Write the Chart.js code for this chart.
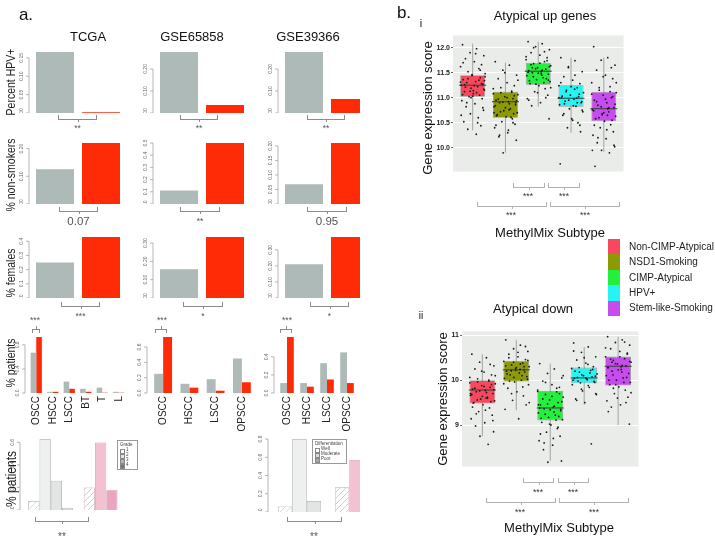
<!DOCTYPE html>
<html><head><meta charset="utf-8">
<script src="https://cdn.jsdelivr.net/npm/chart.js@4.4.0/dist/chart.umd.min.js"></script>
<style>
body{margin:0;background:#fff;font-family:"Liberation Sans",Arial,Helvetica,sans-serif;}
#stage{position:relative;width:715px;height:548px;overflow:hidden;background:#fff;}
#pa{position:absolute;left:0;top:0;width:360px;height:548px;overflow:hidden;}
.t{position:absolute;white-space:nowrap;line-height:1;filter:grayscale(100%);}
.ln{position:absolute;}
canvas{position:absolute;}
.lg{position:absolute;border:0.5px solid #999;background:#fff;font-size:4.5px;color:#444;line-height:1;filter:grayscale(100%);}
.lg div{position:relative;height:5px;padding-left:6px;margin-left:2px;}
.lg span{position:absolute;left:0;top:0.5px;width:3px;height:3px;border:0.5px solid #888;}
</style></head><body><div id="stage"><div id="pa"></div></div>
<script>
// ---------- panel a: clinical comparisons (grey = other subtypes, red = atypical)
const COHORTS = ['TCGA', 'GSE65858', 'GSE39366'];
const GROUPS = ['Other', 'Atypical'];
const HPV_OTHER = [0.166, 0.277, 0.277];
const HPV_ATYP = [0.002, 0.036, 0.064];
const HPV_TICKS = [['0.00', '0.05', '0.10', '0.15'], ['0.00', '0.10', '0.20'], ['0.00', '0.10', '0.20']];
const SMK_OTHER = [0.125, 0.11, 0.068];
const SMK_ATYP = [0.22, 0.5, 0.21];
const SMK_TICKS = [['0.00', '0.10', '0.20'], ['0.0', '0.1', '0.2', '0.3', '0.4', '0.5'], ['0.00', '0.05', '0.10', '0.15', '0.20']];
const FEM_OTHER = [0.25, 0.157, 0.21];
const FEM_ATYP = [0.43, 0.333, 0.38];
const FEM_TICKS = [['0.0', '0.1', '0.2', '0.3', '0.4'], ['0.00', '0.10', '0.20', '0.30'], ['0.00', '0.10', '0.20', '0.30']];
const SIG_HPV = ['**', '**', '**'];
const SIG_SMK = ['0.07', '**', '0.95'];
const SIG_FEM = ['***', '*', '*'];

const HIST_CATS = [['OSCC', 'HSCC', 'LSCC', 'BT', 'T', 'L'], ['OSCC', 'HSCC', 'LSCC', 'OPSCC'], ['OSCC', 'HSCC', 'LSCC', 'OPSCC', 'Other']];
const HIST_OTHER = [[0.67, 0.02, 0.19, 0.07, 0.09, 0.02], [0.25, 0.12, 0.18, 0.45], [0.11, 0.11, 0.33, 0.45, 0]];
const HIST_ATYP = [[0.93, 0.02, 0.07, 0.02, 0.005, 0.005], [0.73, 0.07, 0.03, 0.14], [0.62, 0.07, 0.15, 0.11, 0.07]];
const HIST_TICKS = [['0.0', '0.4', '0.8'], ['0.0', '0.2', '0.4', '0.6'], ['0.0', '0.2', '0.4']];

const GRADE_LEVELS = ['1', '2', '3', '4'];
const GRADE_OTHER = [0.08, 0.63, 0.26, 0.02];
const GRADE_ATYP = [0.20, 0.60, 0.18, 0];
const GRADE_TICKS = ['0.0', '0.2', '0.4', '0.6'];
const DIFF_LEVELS = ['Well', 'Moderate', 'Poor'];
const DIFF_OTHER = [0.06, 0.80, 0.12];
const DIFF_ATYP = [0.27, 0.57, 0.14];
const DIFF_TICKS = ['0.0', '0.2', '0.4', '0.6', '0.8'];

// ---------- panel b: gene expression scores by MethylMix subtype
const SUBTYPES = ['Non-CIMP-Atypical', 'NSD1-Smoking', 'CIMP-Atypical', 'HPV+', 'Stem-like-Smoking'];
const UP_Q1 = [11.02, 10.6, 11.26, 10.82, 10.53];
const UP_MED = [11.25, 10.92, 11.53, 10.99, 10.78];
const UP_Q3 = [11.45, 11.12, 11.7, 11.25, 11.12];
const UP_LO = [10.35, 9.9, 10.82, 10.3, 9.92];
const UP_HI = [12.08, 11.7, 12.12, 11.8, 11.8];
const UP_TICKS = ['10.0', '10.5', '11.0', '11.5', '12.0'];
const DN_Q1 = [9.48, 9.97, 9.1, 9.93, 9.88];
const DN_MED = [9.78, 10.23, 9.38, 10.05, 10.31];
const DN_Q3 = [10.0, 10.43, 9.76, 10.28, 10.53];
const DN_LO = [8.75, 9.33, 8.2, 9.45, 9.0];
const DN_HI = [10.58, 10.9, 10.37, 10.74, 10.97];
const DN_TICKS = ['9', '10', '11'];

const UP_PTS = [
  [12.06, 11.98, 11.9, 11.84, 11.78, 11.72, 11.66, 11.62, 11.58, 11.52, 11.48, 11.44, 11.4, 11.36, 11.32, 11.3, 11.27, 11.25, 11.22, 11.19, 11.15, 11.12, 11.08, 11.05, 11.02, 10.98, 10.94, 10.88, 10.82, 10.75, 10.68, 10.6, 10.52, 10.44, 10.37, 10.27,
   11.03, 11.06, 11.1, 11.13, 11.17, 11.21, 11.24, 11.28, 11.31, 11.35, 11.38, 11.42, 11.46, 11.55, 11.7, 11.88, 10.9, 10.8, 10.65, 10.5, 11.0, 11.34, 11.26, 11.14],
  [11.72, 11.65, 11.55, 11.45, 11.38, 11.3, 11.24, 11.18, 11.13, 11.1, 11.06, 11.02, 10.98, 10.95, 10.92, 10.9, 10.86, 10.82, 10.78, 10.74, 10.7, 10.66, 10.62, 10.58, 10.52, 10.47, 10.4, 10.3, 10.22, 10.15, 9.9,
   10.61, 10.64, 10.68, 10.72, 10.76, 10.8, 10.84, 10.88, 10.91, 10.94, 10.97, 11.0, 11.04, 11.08, 11.11, 11.2, 11.35, 11.5, 10.5, 10.45, 10.35, 10.25, 10.9, 10.7],
  [12.12, 12.08, 12.02, 11.96, 11.9, 11.85, 11.8, 11.76, 11.72, 11.68, 11.64, 11.6, 11.57, 11.54, 11.52, 11.5, 11.47, 11.44, 11.4, 11.36, 11.32, 11.28, 11.24, 11.18, 11.12, 11.05, 10.98, 10.9, 10.84, 10.58,
   11.27, 11.3, 11.34, 11.38, 11.42, 11.45, 11.49, 11.51, 11.55, 11.58, 11.62, 11.66, 11.69, 11.74, 11.82, 11.92, 12.0, 11.2, 11.1, 11.0, 10.95, 11.48, 11.6, 11.35],
  [11.8, 11.74, 11.62, 11.52, 11.42, 11.35, 11.28, 11.24, 11.2, 11.15, 11.1, 11.05, 11.02, 11.0, 10.97, 10.93, 10.9, 10.86, 10.83, 10.78, 10.72, 10.65, 10.58, 10.5, 10.4, 10.32, 9.68,
   10.84, 10.88, 10.92, 10.95, 10.99, 11.03, 11.07, 11.12, 11.17, 11.22, 11.3, 11.45, 11.6, 10.75, 10.68, 10.55, 10.45, 11.0, 10.9],
  [12.02, 11.8, 11.75, 11.65, 11.55, 11.45, 11.38, 11.3, 11.22, 11.15, 11.1, 11.05, 11.0, 10.95, 10.9, 10.85, 10.8, 10.76, 10.72, 10.68, 10.63, 10.58, 10.53, 10.46, 10.4, 10.32, 10.25, 10.18, 10.1, 10.02, 9.95, 9.9, 9.63,
   10.55, 10.6, 10.65, 10.7, 10.74, 10.78, 10.82, 10.87, 10.92, 10.97, 11.02, 11.07, 11.12, 11.2, 11.3, 11.42, 11.6, 10.45, 10.36, 10.2, 10.05, 9.95, 10.8, 10.66]
];
const DN_PTS = [
  [10.58, 10.5, 10.4, 10.32, 10.25, 10.18, 10.12, 10.06, 10.0, 9.96, 9.92, 9.88, 9.84, 9.8, 9.77, 9.74, 9.7, 9.66, 9.62, 9.58, 9.54, 9.5, 9.45, 9.38, 9.3, 9.22, 9.14, 9.05, 8.98, 8.85, 8.75, 8.57,
   9.49, 9.52, 9.56, 9.6, 9.64, 9.68, 9.72, 9.76, 9.79, 9.82, 9.86, 9.9, 9.94, 9.98, 10.03, 10.1, 10.2, 10.35, 9.4, 9.33, 9.25, 9.1, 9.7, 9.6],
  [10.9, 10.78, 10.7, 10.64, 10.58, 10.52, 10.46, 10.42, 10.38, 10.34, 10.3, 10.26, 10.23, 10.2, 10.16, 10.12, 10.08, 10.04, 10.0, 9.96, 9.9, 9.82, 9.74, 9.65, 9.55, 9.45, 9.35, 9.14,
   9.98, 10.02, 10.06, 10.1, 10.14, 10.18, 10.21, 10.24, 10.28, 10.32, 10.36, 10.4, 10.44, 10.5, 10.62, 10.75, 9.92, 9.85, 9.7, 9.5, 10.22, 10.3],
  [10.37, 10.25, 10.15, 10.05, 9.98, 9.9, 9.84, 9.78, 9.74, 9.68, 9.62, 9.56, 9.5, 9.45, 9.4, 9.36, 9.32, 9.27, 9.22, 9.17, 9.12, 9.06, 9.0, 8.92, 8.84, 8.75, 8.65, 8.55, 8.45, 8.2, 8.17,
   9.11, 9.15, 9.19, 9.24, 9.29, 9.34, 9.38, 9.42, 9.47, 9.52, 9.58, 9.64, 9.7, 9.75, 9.82, 9.95, 10.1, 9.02, 8.95, 8.8, 8.7, 8.6, 9.35, 9.45],
  [10.83, 10.74, 10.62, 10.52, 10.45, 10.38, 10.3, 10.26, 10.22, 10.18, 10.14, 10.1, 10.07, 10.04, 10.01, 9.98, 9.95, 9.9, 9.84, 9.76, 9.68, 9.58, 9.5, 8.58,
   9.94, 9.97, 10.0, 10.03, 10.06, 10.09, 10.12, 10.16, 10.2, 10.24, 10.28, 10.35, 10.5, 10.65, 9.88, 9.8, 9.7, 9.55, 10.05],
  [10.97, 10.9, 10.84, 10.78, 10.7, 10.64, 10.58, 10.52, 10.48, 10.44, 10.4, 10.36, 10.32, 10.28, 10.24, 10.2, 10.15, 10.1, 10.05, 10.0, 9.95, 9.9, 9.85, 9.78, 9.7, 9.62, 9.54, 9.45, 9.4, 9.02,
   9.9, 9.95, 10.0, 10.06, 10.12, 10.18, 10.23, 10.28, 10.33, 10.37, 10.42, 10.47, 10.52, 10.6, 10.72, 10.85, 9.82, 9.72, 9.6, 9.5, 9.3, 10.3, 10.4]
];
// horizontal jitter offsets (in category units), reused cyclically
const JITTER = [-0.31, 0.12, -0.08, 0.34, -0.22, 0.05, 0.27, -0.37, 0.19, -0.14, 0.38, -0.02, 0.23, -0.29, 0.09, -0.18, 0.31, -0.35, 0.15, -0.05, 0.36, -0.25, 0.02, 0.21, -0.11, 0.29, -0.33, 0.07, -0.2, 0.33, -0.07, 0.17, -0.27, 0.25, -0.15, 0.11, 0.0];

// ---------- styling
const FONT = '"Liberation Sans", Arial, Helvetica, sans-serif';
const GREY = '#aebab7';
const RED = '#ff2b06';
const SUB_COLORS = ['#f8485e', '#8c9a08', '#22f03c', '#26f4f2', '#c84bef'];
Chart.defaults.font.family = FONT;

const stage = document.getElementById('stage');
const pa = document.getElementById('pa');

function hatch(color) {
  const c = document.createElement('canvas');
  c.width = 6; c.height = 6;
  const g = c.getContext('2d');
  g.fillStyle = '#fff'; g.fillRect(0, 0, 6, 6);
  g.strokeStyle = color; g.lineWidth = 0.8;
  g.beginPath(); g.moveTo(-1, 7); g.lineTo(7, -1); g.stroke();
  return g.createPattern(c, 'repeat');
}
const GREY_SHADES = [hatch('#d0d0d0'), '#eef0ef', '#e2e5e4', '#d3d7d6'];
const PINK_SHADES = [hatch('#f0a9be'), '#f2c1d2', '#eba5c1', '#e390b2'];

function canvasAt(parent, left, top, w, h) {
  const c = document.createElement('canvas');
  c.width = Math.round(w); c.height = Math.round(h);
  c.style.left = left + 'px'; c.style.top = top + 'px';
  parent.appendChild(c);
  return c;
}

function txt(parent, x, y, s, size, color, opts = {}) {
  const d = document.createElement('div');
  d.className = 't';
  d.textContent = s;
  const tx = opts.align === 'left' ? '0' : '-50%';
  Object.assign(d.style, {
    left: x + 'px', top: y + 'px', fontSize: size + 'px', color: color || '#222',
    transform: `translate(${tx},-50%)` + (opts.rot ? ' rotate(-90deg)' : '') + (opts.sy ? ` scaleY(${opts.sy})` : '')
  });
  parent.appendChild(d);
  return d;
}

function bracket(parent, x1, x2, y, dir, color) {
  const add = (l, t, w, h) => {
    const d = document.createElement('div');
    d.className = 'ln';
    Object.assign(d.style, { left: l + 'px', top: t + 'px', width: w + 'px', height: h + 'px', background: color });
    parent.appendChild(d);
  };
  const mid = Math.round((x1 + x2) / 2);
  add(x1, y, x2 - x1, 1);
  if (dir < 0) { add(x1, y - 4, 1, 4); add(x2 - 1, y - 4, 1, 4); add(mid, y, 1, 3); }
  else { add(x1, y, 1, 4); add(x2 - 1, y, 1, 4); add(mid, y - 3, 1, 3); }
}

// R-style y axis: line between first and last tick, small ticks, rotated labels
const rAxis = {
  id: 'rAxis',
  afterDraw(chart, args, o) {
    if (!o.labels) return;
    const s = chart.scales.y, ctx = chart.ctx, x0 = chart.chartArea.left - 3;
    const px = o.labels.map(l => s.getPixelForValue(parseFloat(l)));
    ctx.save();
    ctx.strokeStyle = '#9a9a9a'; ctx.lineWidth = 0.7;
    ctx.beginPath();
    ctx.moveTo(x0, px[0]); ctx.lineTo(x0, px[px.length - 1]);
    px.forEach(p => { ctx.moveTo(x0, p); ctx.lineTo(x0 - 3, p); });
    ctx.stroke();
    ctx.fillStyle = '#666'; ctx.font = '5px ' + FONT;
    ctx.textAlign = 'center'; ctx.textBaseline = 'middle';
    o.labels.forEach((l, i) => {
      ctx.save(); ctx.translate(x0 - 7, px[i]); ctx.rotate(-Math.PI / 2); ctx.fillText(l, 0, 0); ctx.restore();
    });
    ctx.restore();
  }
};

const PAD_L = 16, PAD_T = 4;
function pctChart(parent, box, labels, datasets, ticks, opts) {
  const xH = opts.xLabels ? 42 : 0;
  const padR = opts.xLabels ? 8 : 0;
  const c = canvasAt(parent, box[0] - PAD_L, box[1] - PAD_T, box[2] - box[0] + PAD_L + padR, box[3] - box[1] + PAD_T + xH);
  const top = opts.max || Math.max(...datasets.flatMap(d => d.data));
  return new Chart(c, {
    type: 'bar',
    data: { labels, datasets },
    plugins: [rAxis],
    options: {
      responsive: false, animation: false,
      layout: { padding: { left: PAD_L, top: PAD_T, right: padR, bottom: 0 } },
      plugins: { legend: { display: false }, tooltip: { enabled: false }, rAxis: { labels: ticks } },
      datasets: { bar: { categoryPercentage: opts.cat, barPercentage: opts.bar } },
      scales: {
        x: {
          display: !!(opts.xLabels || opts.base),
          grid: { display: false, drawTicks: false },
          border: { display: !!opts.base, color: '#b8b8b8', width: 0.8 },
          ticks: { display: !!opts.xLabels, minRotation: 90, maxRotation: 90, autoSkip: false, padding: 3, color: '#222', font: { size: 10 } },
          afterFit: s => { s.height = xH; }
        },
        y: {
          min: 0, max: top,
          ticks: { display: false }, grid: { display: false }, border: { display: false },
          afterFit: s => { s.width = 0; }
        }
      }
    }
  });
}

// ----- panel a, rows 1-3
const COL_L = [32, 156, 281];
const ROWS = [[52, 113], [143, 204], [237, 298]];
const SIMPLE = [[HPV_OTHER, HPV_ATYP, HPV_TICKS], [SMK_OTHER, SMK_ATYP, SMK_TICKS], [FEM_OTHER, FEM_ATYP, FEM_TICKS]];
SIMPLE.forEach(([oth, aty, tk], r) => {
  COHORTS.forEach((_, c) => {
    pctChart(pa, [COL_L[c], ROWS[r][0], COL_L[c] + 92, ROWS[r][1]], GROUPS,
      [{ data: [oth[c], aty[c]], backgroundColor: [GREY, RED], borderWidth: 0 }], tk[c], { cat: 1, bar: 0.826 });
  });
});

// ----- panel a, row 4 histology
const HIST_BOX = [[28, 127], [150, 255], [277, 377]];
HIST_CATS.forEach((cats, c) => {
  pctChart(pa, [HIST_BOX[c][0], 337, HIST_BOX[c][1], 393], cats, [
    { data: HIST_OTHER[c], backgroundColor: GREY, borderWidth: 0 },
    { data: HIST_ATYP[c], backgroundColor: RED, borderWidth: 0 }
  ], HIST_TICKS[c], { cat: 0.68, bar: 1, xLabels: true });
});

// ----- panel a, row 5 grade / differentiation
function gradeChart(box, levels, oth, aty, ticks, cat) {
  const ds = levels.map((lv, i) => ({
    label: lv, data: [oth[i], aty[i]],
    backgroundColor: [GREY_SHADES[i], PINK_SHADES[i]],
    borderColor: ['#a5aaa9', '#d4a0b4'], borderWidth: 0.8
  }));
  pctChart(pa, box, GROUPS, ds, ticks, { cat, bar: 1, base: true, max: Math.max(...oth, ...aty) });
}
gradeChart([22.75, 439, 133.75, 510], GRADE_LEVELS, GRADE_OTHER, GRADE_ATYP, GRADE_TICKS, 0.81);
gradeChart([270.5, 439, 384.5, 512], DIFF_LEVELS, DIFF_OTHER, DIFF_ATYP, DIFF_TICKS, 0.76);

function legendBox(left, top, w, title, levels, swatch) {
  const d = document.createElement('div');
  d.className = 'lg';
  Object.assign(d.style, { left: left + 'px', top: top + 'px', width: w + 'px', paddingTop: '2px', paddingBottom: '1px' });
  const h = document.createElement('div');
  h.textContent = title; h.style.paddingLeft = '0px';
  d.appendChild(h);
  levels.forEach((lv, i) => {
    const r = document.createElement('div');
    const sq = document.createElement('span');
    sq.style.background = swatch[i];
    r.appendChild(sq);
    r.appendChild(document.createTextNode(lv));
    d.appendChild(r);
  });
  pa.appendChild(d);
}
legendBox(117, 440, 19, 'Grade', GRADE_LEVELS, ['#fff', '#e2e2e2', '#b5b5b5', '#777']);
legendBox(312, 439, 33, 'Differentiation', DIFF_LEVELS, ['#fff', '#d8d8d8', '#a6a6a6']);

// ----- panel a text
txt(pa, 26, 14, 'a.', 17, '#111');
txt(pa, 88, 36, 'TCGA', 13, '#111');
txt(pa, 192, 36, 'GSE65858', 13, '#111');
txt(pa, 308, 36, 'GSE39366', 13, '#111');
txt(pa, 10, 82, 'Percent HPV+', 10.5, '#222', { rot: true, sy: 1.2 });
txt(pa, 10, 175, '% non-smokers', 10.5, '#222', { rot: true, sy: 1.2 });
txt(pa, 10, 273, '% females', 10.5, '#222', { rot: true, sy: 1.2 });
txt(pa, 10, 363, '% patients', 10.5, '#222', { rot: true, sy: 1.2 });
txt(pa, 11, 479, '% patients', 12, '#222', { rot: true, sy: 1.2 });

const BR = '#8c8c8c';
const BR_X = [[[58, 97], [180, 218], [307, 345]], [[59, 98], [180, 220], [307, 347]], [[61, 100], [183, 223], [310, 349]]];
const BR_Y = [119, 211, 306];
const SIG_Y = [128, 221, 316];
[SIG_HPV, SIG_SMK, SIG_FEM].forEach((sig, r) => {
  sig.forEach((s, c) => {
    const [x1, x2] = BR_X[r][c];
    bracket(pa, x1, x2, BR_Y[r], -1, BR);
    const num = /\d/.test(s);
    txt(pa, (x1 + x2) / 2, SIG_Y[r] + (num ? 1 : 0), s, num ? 11.5 : 8.5, '#555');
  });
});
[[32, 40, 35], [155, 167, 162], [280, 292, 287]].forEach(([x1, x2, tx]) => {
  bracket(pa, x1, x2, 329, 1, BR);
  txt(pa, tx, 320, '***', 8.5, '#555');
});
bracket(pa, 35, 89, 521, -1, BR);
txt(pa, 62, 537, '**', 10, '#555');
bracket(pa, 287, 342, 521, -1, BR);
txt(pa, 314, 537, '**', 10, '#555');

// ----- panel b box plots
const panelBg = {
  id: 'panelBg',
  beforeDraw(chart) {
    const { left, top, width, height } = chart.chartArea;
    chart.ctx.save();
    chart.ctx.fillStyle = '#e9ece8';
    chart.ctx.fillRect(left, top, width, height);
    chart.ctx.restore();
  }
};

const YW = 22, BP = 6;
function boxChart(box, q1, med, q3, lo, hi, pts, yMin, yMax, ticks) {
  const c = canvasAt(stage, box[0] - YW, box[1] - BP, box[2] - box[0] + YW, box[3] - box[1] + 2 * BP);
  const datasets = SUBTYPES.map((s, i) => ({
    type: 'scatter', data: [{ x: i + 1, y: lo[i] }, { x: i + 1, y: hi[i] }],
    showLine: true, borderColor: '#a3a3a3', borderWidth: 1, pointRadius: 0, order: 3
  }));
  datasets.push({
    type: 'bar', data: q1.map((v, i) => ({ x: i + 1, y: [v, q3[i]] })),
    backgroundColor: SUB_COLORS, borderColor: 'rgba(70,70,70,0.5)', borderWidth: 0.8, borderSkipped: false,
    barPercentage: 0.76, categoryPercentage: 1, order: 2
  });
  datasets.push({
    type: 'scatter', data: med.map((v, i) => ({ x: i + 1, y: v })),
    pointStyle: 'line', pointRadius: 13.5, borderColor: '#3a3a3a', borderWidth: 1, order: 1
  });
  datasets.push({
    type: 'scatter',
    data: pts.flatMap((arr, g) => arr.map((v, k) => ({ x: g + 1 + JITTER[k % JITTER.length], y: v }))),
    pointRadius: 0.9, backgroundColor: '#1a1a1a', borderWidth: 0, order: 0
  });
  return new Chart(c, {
    type: 'bar',
    data: { datasets },
    plugins: [panelBg],
    options: {
      responsive: false, animation: false,
      layout: { padding: { left: 0, right: 0, top: BP, bottom: BP } },
      plugins: { legend: { display: false }, tooltip: { enabled: false } },
      scales: {
        x: { type: 'linear', min: 0.4, max: 5.6, offset: false, display: false },
        y: {
          min: yMin, max: yMax,
          afterBuildTicks: s => { s.ticks = ticks.map(t => ({ value: parseFloat(t) })); },
          ticks: { callback: (v, i) => ticks[i], color: '#222', padding: 1, font: { size: 7, weight: 'bold' } },
          grid: { color: '#ffffff', lineWidth: 1, tickLength: 2, tickColor: '#666' },
          border: { display: false },
          afterFit: s => { s.width = YW; }
        }
      }
    }
  });
}
boxChart([453, 27, 638, 180], UP_Q1, UP_MED, UP_Q3, UP_LO, UP_HI, UP_PTS, 9.526, 12.243, UP_TICKS);
boxChart([462, 323, 653, 475], DN_Q1, DN_MED, DN_Q3, DN_LO, DN_HI, DN_PTS, 8.075, 11.085, DN_TICKS);

// ----- panel b text, brackets, legend
txt(stage, 404, 12, 'b.', 17, '#111');
txt(stage, 421, 23, 'i', 11, '#111');
txt(stage, 421, 316, 'ii', 10, '#111');
txt(stage, 545, 15, 'Atypical up genes', 13, '#111');
txt(stage, 533, 308, 'Atypical down', 13, '#111');
txt(stage, 427, 108, 'Gene expression score', 13, '#111', { rot: true });
txt(stage, 442, 399, 'Gene expression score', 13, '#111', { rot: true });
txt(stage, 550, 232, 'MethylMix Subtype', 13, '#111');
txt(stage, 559, 527, 'MethylMix Subtype', 13, '#111');

const BB = '#b2b2b2';
bracket(stage, 513, 545, 187, -1, BB); txt(stage, 528, 196, '***', 8.5, '#333');
bracket(stage, 548, 580, 187, -1, BB); txt(stage, 564, 196, '***', 8.5, '#333');
bracket(stage, 477, 547, 206, -1, BB); txt(stage, 511, 215, '***', 8.5, '#333');
bracket(stage, 550, 620, 206, -1, BB); txt(stage, 585, 215, '***', 8.5, '#333');
bracket(stage, 523, 554, 482, -1, BB); txt(stage, 538, 492, '***', 8.5, '#333');
bracket(stage, 558, 589, 482, -1, BB); txt(stage, 573, 492, '***', 8.5, '#333');
bracket(stage, 486, 556, 502, -1, BB); txt(stage, 520, 512, '***', 8.5, '#333');
bracket(stage, 559, 629, 502, -1, BB); txt(stage, 594, 512, '***', 8.5, '#333');

SUBTYPES.forEach((s, i) => {
  const y = 239 + i * 15.4;
  const sw = document.createElement('div');
  sw.className = 'ln';
  Object.assign(sw.style, { left: '608px', top: y + 'px', width: '12px', height: '15.4px', background: SUB_COLORS[i] });
  stage.appendChild(sw);
  txt(stage, 629, y + 7.7, s, 10, '#222', { align: 'left' });
});
</script></body></html>
